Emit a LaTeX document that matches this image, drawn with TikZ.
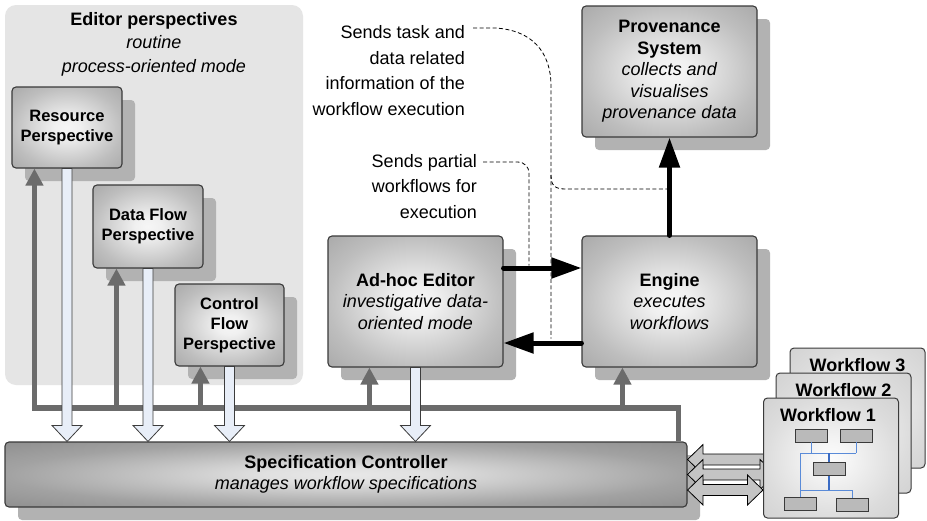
\documentclass[tikz,border=0pt]{standalone}
\usepackage{fontspec}
\setmainfont{Liberation Sans}
\usetikzlibrary{arrows.meta,shadows,calc}

\pgfdeclarelayer{front}
\pgfsetlayers{main,front}

\definecolor{edbg}{HTML}{E5E5E5}
\definecolor{shadowgray}{HTML}{B2B2B2}
\definecolor{boxedge}{HTML}{3A3A3A}
\definecolor{busgray}{HTML}{6B6B6B}
\definecolor{hollowfill}{HTML}{E8EEF8}
\definecolor{hollowedge}{HTML}{3C3C3C}
\definecolor{dblfill}{HTML}{C4C4C4}
\definecolor{treeblue}{HTML}{5A8BD8}
\definecolor{treedark}{HTML}{3B6CC4}
\definecolor{taskfill}{HTML}{BABABA}

\definecolor{glowA}{HTML}{F6F6F6}
\definecolor{glowB}{HTML}{F0F0F0}
\definecolor{glowC}{HTML}{BEBEBE}
\definecolor{glowD}{HTML}{A9A9A9}
\definecolor{specA}{HTML}{E8E8E8}
\definecolor{specB}{HTML}{E0E0E0}
\definecolor{specC}{HTML}{A2A2A2}
\definecolor{specD}{HTML}{8E8E8E}
\definecolor{wfA}{HTML}{FCFCFC}
\definecolor{wfB}{HTML}{F6F6F6}
\definecolor{wfC}{HTML}{DCDCDC}
\definecolor{wfD}{HTML}{D2D2D2}

% radial fills: 25bp is the edge midpoint of the filled path
\pgfdeclareradialshading{boxglow}{\pgfpoint{0bp}{0bp}}{color(0bp)=(glowA); color(6bp)=(glowB); color(25bp)=(glowC); color(36bp)=(glowD); color(50bp)=(glowD)}
\pgfdeclareradialshading{specglow}{\pgfpoint{0bp}{0bp}}{color(0bp)=(specA); color(6bp)=(specB); color(25bp)=(specC); color(36bp)=(specD); color(50bp)=(specD)}
\pgfdeclareradialshading{wfglow}{\pgfpoint{0bp}{0bp}}{color(0bp)=(wfA); color(6bp)=(wfB); color(25bp)=(wfC); color(36bp)=(wfD); color(50bp)=(wfD)}

\newcommand\bigtext{\fontsize{18}{21.5}\selectfont}
\newcommand\perstext{\fontsize{16.5}{20}\selectfont}
\newcommand\notefont{\fontsize{18}{25.5}\selectfont}

% hollow downward arrow from the bottom of #1 to the top of #2
\newcommand\hollowdown[2]{%
  \filldraw[hollowarrow] let \p1=(#1.south), \p2=(#2.north) in
    (\x1-5pt,\y1) -- (\x1-5pt,\y2+16pt) -- (\x1-15pt,\y2+16pt) -- (\x1,\y2)
    -- (\x1+15pt,\y2+16pt) -- (\x1+5pt,\y2+16pt) -- (\x1+5pt,\y1) -- cycle;}

% double-headed block arrow from the east side of #1 (offset #3) to the west side of #2
\newcommand\dblconnect[3]{%
  \filldraw[dblarrow] let \p1=($(#1.east)+(0pt,#3)$), \p2=(#2.west) in
    (\x1,\y1) -- (\x1+15.5pt,\y1+15pt) -- (\x1+15.5pt,\y1+5.5pt)
    -- (\x2-15.5pt,\y1+5.5pt) -- (\x2-15.5pt,\y1+15pt) -- (\x2,\y1)
    -- (\x2-15.5pt,\y1-15pt) -- (\x2-15.5pt,\y1-5.5pt)
    -- (\x1+15.5pt,\y1-5.5pt) -- (\x1+15.5pt,\y1-15pt) -- cycle;}

\begin{document}
\begin{tikzpicture}[x=1pt,y=-1pt,
  boxshadow/.style={general shadow={fill=shadowgray, shadow xshift=13pt, shadow yshift=-13pt}},
  sysbox/.style={draw=boxedge, line width=1.1pt, rounded corners=4pt,
    shading=boxglow, align=center, inner sep=0pt, boxshadow},
  persp/.style={sysbox, minimum width=110pt, minimum height=82pt, font=\perstext\bfseries},
  bigbox/.style={sysbox, minimum width=175pt, minimum height=131pt, font=\bigtext},
  wfbox/.style={draw=boxedge, line width=1pt, rounded corners=4pt,
    shading=wfglow, minimum width=135pt, minimum height=120pt, inner sep=0pt},
  wflabel/.style={font=\bigtext\bfseries, inner sep=0pt},
  taskbox/.style={draw=boxedge, line width=0.8pt, fill=taskfill,
    minimum width=32pt, minimum height=13pt, inner sep=0pt},
  treeline/.style={draw=treeblue, line width=1pt},
  treetrunk/.style={draw=treedark, line width=2pt},
  busline/.style={draw=busgray, line width=5.5pt, -{Triangle[length=17pt,width=17pt]}},
  flowline/.style={draw=black, line width=5pt, line cap=round, -{Triangle[length=30pt,width=20pt]}},
  hollowarrow/.style={fill=hollowfill, draw=hollowedge, line width=0.8pt, line join=miter},
  dblarrow/.style={fill=dblfill, draw=black, line width=0.8pt, line join=miter},
  noteline/.style={draw=black, line width=0.8pt, dash pattern=on 4pt off 2.5pt},
  notetext/.style={font=\notefont, align=right, inner sep=0pt},
]
\useasboundingbox (0,0) rectangle (927,520);
\fill[white] (0,0) rectangle (927,520);

% editor perspectives group
\node[fill=edbg, rounded corners=11pt, minimum width=298pt, minimum height=380pt, inner sep=0pt]
  (editor) at (154,195) {};
\node[font=\fontsize{18}{23.5}\selectfont, align=center, inner sep=0pt] (edtitle) at (154,44)
  {\textbf{Editor perspectives}\\ \textit{routine}\\ \textit{process-oriented mode}};

\node[persp, minimum height=81pt] (res) at (67,127.5) {Resource\\Perspective};
\node[persp, minimum height=83pt] (data) at (148,226.5) {Data Flow\\Perspective};
\node[persp, minimum width=109pt] (ctrl) at (229.5,325) {Control\\Flow\\Perspective};

% main components
\node[bigbox] (adhoc) at (415.5,301.5)
  {\textbf{Ad-hoc Editor}\\ \textit{investigative data-}\\ \textit{oriented mode}};
\node[bigbox] (engine) at (669.5,301.5)
  {\textbf{Engine}\\ \textit{executes}\\ \textit{workflows}};
\node[bigbox] (prov) at (669.5,71.5)
  {\textbf{Provenance}\\ \textbf{System}\\ \textit{collects and}\\ \textit{visualises}\\ \textit{provenance data}};
\node[sysbox, shading=specglow, minimum width=682pt, minimum height=65pt, font=\bigtext]
  (spec) at (346,474.5)
  {\textbf{Specification Controller}\\ \textit{manages workflow specifications}};

% workflow stack
\begin{pgfonlayer}{front}
\node[wfbox] (wf3) at (857.5,408) {};
\node[wflabel] (wf3label) at ([yshift=-18pt]wf3.north) {Workflow 3};
\node[wfbox] (wf2) at (843.5,433) {};
\node[wflabel] (wf2label) at ([yshift=-18pt]wf2.north) {Workflow 2};
\node[wfbox] (wf1) at (831,458) {};
\node[wflabel] (wf1label) at ([xshift=-3pt,yshift=-18pt]wf1.north) {Workflow 1};
\node[taskbox] (t1) at (811.5,435.5) {};
\node[taskbox] (t2) at (856,435.5) {};
\node[taskbox] (t3) at (829,469) {};
\node[taskbox] (t4) at (800,504) {};
\node[taskbox] (t5) at (852,505) {};
\coordinate (j1) at (829,453);
\coordinate (j2) at (829,490);
\draw[treeline] (t1.south) -- (t1.south |- j1);
\draw[treeline] (t2.south) -- (t2.south |- j1);
\draw[treeline] (t4.north |- j1) -- (t2.south |- j1);
\draw[treeline] (t4.north |- j1) -- (t4.north);
\draw[treeline] (t4.north |- j2) -- (t5.north |- j2) -- (t5.north);
\draw[treetrunk] (j1) -- (t3.north);
\draw[treetrunk] (t3.south) -- (j2);
\end{pgfonlayer}

% specification bus feeding every editor and the engine
\coordinate (busy) at (0,408);
\draw[busline] ([xshift=-9pt]spec.north east) |- ([xshift=23pt]res.south west |- busy)
  -- ([xshift=23pt]res.south west);
\draw[busline] ([xshift=24pt]data.south west |- busy) -- ([xshift=24pt]data.south west);
\draw[busline] ([xshift=26pt]ctrl.south west |- busy) -- ([xshift=26pt]ctrl.south west);
\draw[busline] ([xshift=42pt]adhoc.south west |- busy) -- ([xshift=42pt]adhoc.south west);
\draw[busline] ([xshift=41pt]engine.south west |- busy) -- ([xshift=41pt]engine.south west);

% specifications handed down to the controller
\hollowdown{res}{spec}
\hollowdown{data}{spec}
\hollowdown{ctrl}{spec}
\hollowdown{adhoc}{spec}

% exchange with the stored workflows
\dblconnect{spec}{wf3}{15pt}
\dblconnect{spec}{wf2}{0pt}
\dblconnect{spec}{wf1}{-15.5pt}

% annotations
\node[notetext, anchor=east] (note1) at (465,70.5)
  {Sends task and\\data related\\information of the\\workflow execution};
\node[notetext, anchor=east] (note2) at (477,186.5)
  {Sends partial\\workflows for\\execution};
\coordinate (n1) at (473,28);
\coordinate (n2) at (483,162);
\coordinate (n1end) at (551,338.5);
\coordinate (n1fork) at (551,175);
\coordinate (n1tap) at (667,189);
\coordinate (n2end) at (529,265.5);
\draw[noteline] (n1) -- (495,28) .. controls (532,30) and (551,52) .. (551,86) -- (n1end);
\draw[noteline] (n1fork) .. controls (551,186) and (555,189) .. (566,189) -- (n1tap);
\draw[noteline, rounded corners=11pt] (n2) -- (529,162) -- (n2end);

% control flow between editor, engine and provenance system
\draw[flowline] ([yshift=33.5pt]adhoc.east) -- ([yshift=33.5pt]engine.west);
\draw[flowline] ([yshift=-41.5pt]engine.west) -- ([yshift=-41.5pt]adhoc.east);
\draw[flowline] (engine.north) -- (prov.south);
\end{tikzpicture}
\end{document}
